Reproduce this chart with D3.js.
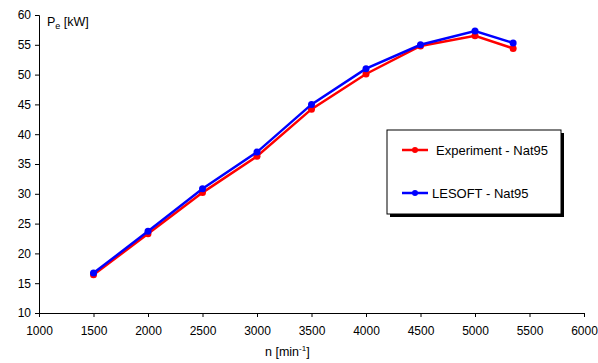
<!DOCTYPE html>
<html>
<head>
<meta charset="utf-8">
<script src="https://cdn.jsdelivr.net/npm/d3@7"></script>
<style>
  body { margin: 0; background: #fff; }
  svg text { font-family: "Liberation Sans", Arial, sans-serif; font-size: 12px; fill: #000; }
</style>
</head>
<body>
<svg id="chart" width="598" height="363"></svg>
<script>
const speeds = [1500, 2000, 2500, 3000, 3500, 4000, 4500, 5000, 5350]
const experiment = [16.4, 23.3, 30.2, 36.3, 44.2, 50.1, 54.8, 56.5, 54.4]
const lesoft = [16.7, 23.7, 30.85, 37.0, 45.0, 51.0, 55.0, 57.3, 55.3]
const xTicks = [1000, 1500, 2000, 2500, 3000, 3500, 4000, 4500, 5000, 5500, 6000]
const yTicks = [10, 15, 20, 25, 30, 35, 40, 45, 50, 55, 60]
const seriesNames = ['Experiment - Nat95', 'LESOFT - Nat95']
const seriesColors = ['#ff0000', '#0000ff']

const svg = d3.select('#chart')

const xscale = d3.scaleLinear().domain([1000, 6000]).range([39, 584])
const yscale = d3.scaleLinear().domain([10, 60]).range([313, 15])

// axes
const xAxis = d3.axisBottom(xscale).tickValues(xTicks).tickFormat(d3.format('d'))
  .tickSizeOuter(0).tickSize(4).tickPadding(9)
svg.append('g')
  .attr('transform', `translate(0, ${yscale(10)})`)
  .call(xAxis)
  .call(g => g.selectAll('text').style('font-size', '12px'))

const yAxis = d3.axisLeft(yscale).tickValues(yTicks).tickFormat(d3.format('d'))
  .tickSizeOuter(0).tickSize(4).tickPadding(4)
svg.append('g')
  .attr('transform', `translate(${xscale(1000)}, 0)`)
  .call(yAxis)
  .call(g => g.selectAll('text').style('font-size', '12px'))

svg.selectAll('.domain, .tick line').attr('stroke', '#000')

// axis titles
const yTitle = svg.append('text').attr('x', 47).attr('y', 26).style('font-size', '12.5px')
yTitle.append('tspan').text('P')
yTitle.append('tspan').text('e').attr('dy', 3).style('font-size', '9px')
yTitle.append('tspan').text(' [kW]').attr('dy', -3)

const xTitle = svg.append('text').attr('x', 265).attr('y', 356).style('font-size', '12.5px')
xTitle.append('tspan').text('n [min')
xTitle.append('tspan').text('-1').attr('dy', -5).style('font-size', '8px')
xTitle.append('tspan').text(']').attr('dy', 5)

// lines
const allSeries = [experiment, lesoft]
const line = d3.line()
  .x((d, i) => xscale(speeds[i]))
  .y(d => yscale(d))

allSeries.forEach((values, s) => {
  const g = svg.append('g')
  g.append('path')
    .datum(values)
    .attr('d', line)
    .attr('fill', 'none')
    .attr('stroke', seriesColors[s])
    .attr('stroke-width', 2.5)
  g.selectAll('circle')
    .data(values)
    .enter()
    .append('circle')
    .attr('cx', (d, i) => xscale(speeds[i]))
    .attr('cy', d => yscale(d))
    .attr('r', 3.5)
    .attr('fill', seriesColors[s])
})

// legend
const legend = svg.append('g').attr('transform', 'translate(387, 130)')
legend.append('rect')
  .attr('x', 3).attr('y', 3).attr('width', 174).attr('height', 84)
  .attr('fill', '#000')
legend.append('rect')
  .attr('x', 0).attr('y', 0).attr('width', 174).attr('height', 84)
  .attr('fill', '#fff').attr('stroke', '#000').attr('stroke-width', 1)

const legendY = [20, 63]
const textX = [49, 45]
seriesNames.forEach((name, s) => {
  legend.append('line')
    .attr('x1', 15).attr('x2', 41)
    .attr('y1', legendY[s]).attr('y2', legendY[s])
    .attr('stroke', seriesColors[s]).attr('stroke-width', 2.5)
  legend.append('circle')
    .attr('cx', 28).attr('cy', legendY[s]).attr('r', 3)
    .attr('fill', seriesColors[s])
  legend.append('text')
    .attr('x', textX[s]).attr('y', legendY[s] + 5)
    .style('font-size', '13px')
    .text(name)
})
</script>
</body>
</html>
